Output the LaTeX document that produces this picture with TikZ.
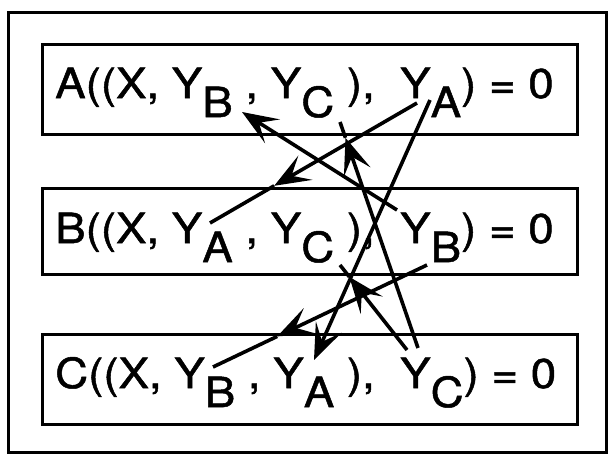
\documentclass[tikz,border=0pt]{standalone}
\usepackage{fontspec}
\setmainfont{TeX Gyre Heros}
\newfontfamily\eqfont[FakeStretch=1.1,FakeBold=1.2]{TeX Gyre Heros}
\usetikzlibrary{arrows.meta,calc}
\newcommand\sbx[1]{\raisebox{-19pt}{#1}}
\begin{document}
\begin{tikzpicture}[x=1pt,y=-1pt,
  frame/.style={draw,line width=3pt},
  eqbox/.style={draw,line width=3pt,minimum width=535pt,inner sep=0pt,anchor=north west},
  eq/.style={anchor=base west,inner sep=0pt,font=\eqfont\fontsize{41.5}{41.5}\selectfont},
  link/.style={line width=3.6pt,-{Stealth[length=36pt,width=28pt,inset=16pt]}},
  plain/.style={line width=3.6pt}]
\useasboundingbox (0,0) rectangle (608,455);
\draw[frame] (8,12) rectangle (606,452);
% boxes
\node[eqbox,minimum height=90pt] (boxA) at (41,43) {};
\node[eqbox,minimum height=86pt] (boxB) at (41,187) {};
\node[eqbox,minimum height=90pt] (boxC) at (41,333) {};
% equations
\node[eq] (eqA) at (55,98) {A((X, Y\sbx{B} , Y\sbx{C} ), \ Y\sbx{A}) = 0};
\node[eq] (eqB) at (55,243) {B((X, Y\sbx{A} , Y\sbx{C} ), \ Y\sbx{B}) = 0};
\node[eq] (eqC) at (55,388) {C((X, Y\sbx{B} , Y\sbx{A} ), \ Y\sbx{C}) = 0};
% connector ends
\coordinate (aB) at (242,112);
\coordinate (aC) at (340,122);
\coordinate (aA1) at (417,103);
\coordinate (aA2) at (430,100);
\coordinate (bA) at (210,223);
\coordinate (bC) at (340,265);
\coordinate (bB1) at (397,210);
\coordinate (bB2) at (427,265);
\coordinate (cB) at (213,367);
\coordinate (cA) at (314,360);
\coordinate (cC1) at (407,350);
\coordinate (cC2) at (418,348);
% arrow heads placed along lines
\coordinate (m1) at ($(aA1)!0.69!(bA)$);
\coordinate (m4) at ($(bB2)!0.70!(cB)$);
\coordinate (m5) at ($(cC2)!0.93!(aC)$);
\coordinate (m6) at ($(cC1)!0.86!(bC)$);
% connectors
\draw[link] (aA1) -- (m1);
\draw[plain] (m1) -- (bA);
\draw[link] (aA2) -- (cA);
\draw[link] (bB1) -- (aB);
\draw[link] (bB2) -- (m4);
\draw[plain] (m4) -- (cB);
\draw[link] (cC2) -- (m5);
\draw[plain] (m5) -- (aC);
\draw[link] (cC1) -- (m6);
\draw[plain] (m6) -- (bC);
\end{tikzpicture}
\end{document}
